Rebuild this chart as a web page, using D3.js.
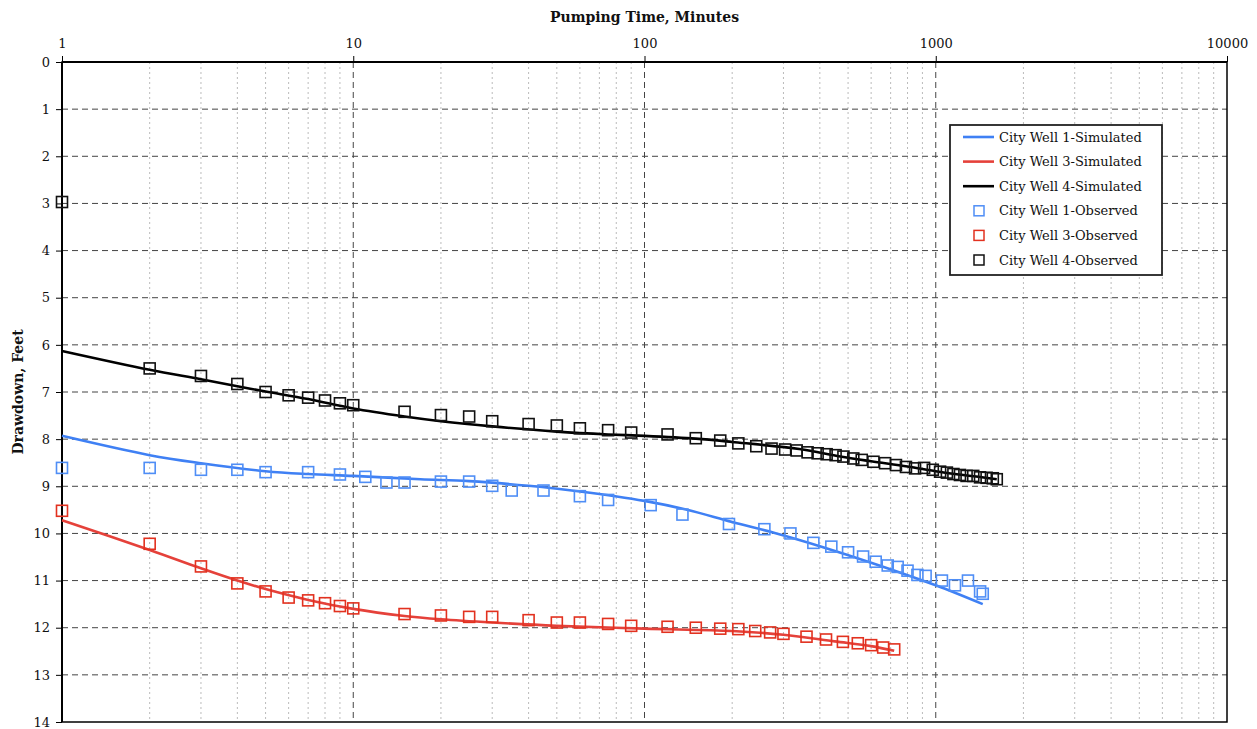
<!DOCTYPE html>
<meta charset="utf-8">
<style>
body { margin: 0; background: #fff; }
text { font-family: "DejaVu Serif", serif; fill: #111; }
</style>
<svg></svg>
<script src="https://d3js.org/d3.v7.min.js"></script>
<script>

// observed drawdown, minutes / feet
var well1Obs = [[1,8.61],[2,8.61],[3,8.65],[4,8.65],[5,8.70],[7,8.70],[9,8.75],[11,8.80],[13,8.92],[15,8.92],[20,8.90],[25,8.90],[30,8.99],[35,9.09],[45,9.09],[60,9.21],[75,9.29],[105,9.40],[135,9.60],[195,9.80],[258,9.91],[317,10.00],[380,10.20],[438,10.28],[500,10.40],[563,10.49],[622,10.60],[684,10.68],[740,10.71],[800,10.79],[865,10.88],[923,10.90],[1050,11.00],[1164,11.10],[1290,11.00],[1420,11.23],[1450,11.28]];
var well3Obs = [[1,9.52],[2,10.22],[3,10.70],[4,11.06],[5,11.23],[6,11.36],[7,11.42],[8,11.48],[9,11.54],[10,11.59],[15,11.71],[20,11.74],[25,11.77],[30,11.77],[40,11.84],[50,11.89],[60,11.89],[75,11.92],[90,11.96],[120,11.98],[150,12.00],[182,12.02],[210,12.03],[240,12.07],[270,12.10],[300,12.13],[360,12.19],[420,12.25],[480,12.30],[540,12.33],[600,12.37],[660,12.42],[720,12.46]];
var well4Obs = [[1,2.97],[2,6.50],[3,6.66],[4,6.83],[5,7.00],[6,7.07],[7,7.12],[8,7.18],[9,7.24],[10,7.28],[15,7.42],[20,7.49],[25,7.52],[30,7.62],[40,7.68],[50,7.71],[60,7.77],[75,7.81],[90,7.86],[120,7.90],[150,7.98],[182,8.03],[210,8.09],[242,8.15],[273,8.20],[304,8.22],[333,8.24],[363,8.28],[393,8.30],[422,8.32],[453,8.34],[482,8.37],[521,8.41],[557,8.44],[611,8.48],[670,8.51],[730,8.55],[790,8.59],[849,8.62],[912,8.61],[977,8.65],[1035,8.69],[1092,8.71],[1150,8.74],[1211,8.76],[1276,8.78],[1345,8.78],[1419,8.81],[1495,8.82],[1570,8.83],[1620,8.85]];

// simulated drawdown
var well1Sim = [[1,7.93],[2,8.34],[3,8.51],[5,8.68],[7,8.74],[10,8.78],[17,8.85],[25,8.89],[40,8.99],[60,9.11],[100,9.31],[140,9.50],[200,9.76],[280,9.99],[400,10.27],[600,10.62],[1000,11.10],[1450,11.50]];
var well3Sim = [[1,9.72],[2,10.35],[3,10.74],[4,11.00],[5,11.18],[7,11.41],[10,11.60],[15,11.75],[20,11.82],[30,11.89],[50,11.96],[100,12.02],[200,12.07],[300,12.15],[450,12.29],[600,12.39],[720,12.49]];
var well4Sim = [[1,6.13],[2,6.53],[3,6.73],[4,6.88],[5,6.99],[7,7.15],[10,7.35],[15,7.52],[20,7.62],[30,7.73],[50,7.84],[75,7.90],[100,7.93],[150,7.99],[200,8.06],[340,8.21],[470,8.37],[600,8.47],[800,8.58],[1000,8.68],[1200,8.75],[1440,8.81],[1620,8.85]];

var xTicks = [1, 10, 100, 1000, 10000];
var yTicks = d3.range(0, 15);

var legendItems = [
  {name: "City Well 1-Simulated", color: "#3f80f4", type: "line"},
  {name: "City Well 3-Simulated", color: "#e5413a", type: "line"},
  {name: "City Well 4-Simulated", color: "#000000", type: "line"},
  {name: "City Well 1-Observed", color: "#4f8ef6", type: "square"},
  {name: "City Well 3-Observed", color: "#e2311f", type: "square"},
  {name: "City Well 4-Observed", color: "#111111", type: "square"}
];

var svg = d3.select("svg").attr("width", 1257).attr("height", 729);

var margin = {left: 62, top: 62, right: 30, bottom: 7},
    width = 1257 - margin.left - margin.right,
    height = 729 - margin.top - margin.bottom;

var g = svg.append("g").attr("transform", "translate(" + margin.left + "," + margin.top + ")");

var x = d3.scaleLog().domain([1, 10000]).range([0, width]);
var y = d3.scaleLinear().domain([0, 14]).range([0, height]);

// minor vertical grid (2..9 of each decade)
var minor = [];
for (var dec = 1; dec < 10000; dec *= 10)
  for (var k = 2; k < 10; k++) minor.push(dec * k);

g.append("g").selectAll("line").data(minor).enter().append("line")
  .attr("x1", function(d) { return x(d); }).attr("x2", function(d) { return x(d); })
  .attr("y1", 0).attr("y2", height)
  .attr("stroke", "#bbb").attr("stroke-width", 1).attr("stroke-dasharray", "2,3");

// major grid
g.append("g").selectAll("line").data(xTicks.slice(1, -1)).enter().append("line")
  .attr("x1", function(d) { return x(d); }).attr("x2", function(d) { return x(d); })
  .attr("y1", 0).attr("y2", height)
  .attr("stroke", "#444").attr("stroke-width", 1).attr("stroke-dasharray", "6,4");

g.append("g").selectAll("line").data(yTicks.slice(1, -1)).enter().append("line")
  .attr("x1", 0).attr("x2", width)
  .attr("y1", function(d) { return y(d); }).attr("y2", function(d) { return y(d); })
  .attr("stroke", "#444").attr("stroke-width", 1).attr("stroke-dasharray", "6,4");

// axes
var xAxis = d3.axisTop(x).tickValues(xTicks).tickFormat(d3.format("d")).tickSizeOuter(0).tickSize(6).tickPadding(8);
var yAxis = d3.axisLeft(y).tickValues(yTicks).tickSizeOuter(0).tickSize(6).tickPadding(6);

var gx = g.append("g").call(xAxis);
var gy = g.append("g").call(yAxis);
[gx, gy].forEach(function(a) {
  a.select(".domain").remove();
  a.selectAll("text").style("font-family", "DejaVu Serif, serif").style("font-size", "13px").attr("fill", "#111");
  a.selectAll(".tick line").attr("stroke", "#000");
});

// frame
g.append("rect").attr("width", width).attr("height", height)
  .attr("fill", "none").attr("stroke", "#000").attr("stroke-width", 1.5);
g.append("line").attr("x1", 0).attr("x2", width).attr("y1", 0).attr("y2", 0).attr("stroke", "#000").attr("stroke-width", 2);
g.append("line").attr("x1", 0).attr("x2", 0).attr("y1", 0).attr("y2", height).attr("stroke", "#000").attr("stroke-width", 2);

// simulated lines
var line = d3.line()
  .x(function(d) { return x(d[0]); })
  .y(function(d) { return y(d[1]); })
  .curve(d3.curveCatmullRom);

var sims = [well1Sim, well3Sim, well4Sim];
sims.forEach(function(s, i) {
  g.append("path").datum(s).attr("d", line)
    .attr("fill", "none").attr("stroke", legendItems[i].color).attr("stroke-width", 2.6);
});

// observed squares
var obs = [well1Obs, well3Obs, well4Obs];
var sq = 11;
obs.forEach(function(o, i) {
  g.append("g").selectAll("rect").data(o).enter().append("rect")
    .attr("x", function(d) { return x(d[0]) - sq / 2; })
    .attr("y", function(d) { return y(d[1]) - sq / 2; })
    .attr("width", sq).attr("height", sq)
    .attr("fill", "none").attr("stroke", legendItems[i + 3].color).attr("stroke-width", 1.6);
});

// titles
svg.append("text").attr("x", margin.left + width / 2).attr("y", 22)
  .attr("text-anchor", "middle").style("font-size", "14px").style("font-weight", "bold")
  .text("Pumping Time, Minutes");
svg.append("text").attr("transform", "translate(23," + (margin.top + height / 2) + ") rotate(-90)")
  .attr("text-anchor", "middle").style("font-size", "14px").style("font-weight", "bold")
  .text("Drawdown, Feet");

// legend
var lg = svg.append("g").attr("transform", "translate(950,125)");
lg.append("rect").attr("width", 212).attr("height", 150)
  .attr("fill", "#fff").attr("stroke", "#222").attr("stroke-width", 1.8);
var li = lg.selectAll(".item").data(legendItems).enter().append("g")
  .attr("transform", function(d, i) { return "translate(0," + (12 + i * 24.6) + ")"; });
li.filter(function(d) { return d.type == "line"; }).append("line")
  .attr("x1", 13).attr("x2", 44).attr("y1", 0).attr("y2", 0)
  .attr("stroke", function(d) { return d.color; }).attr("stroke-width", 2.6);
li.filter(function(d) { return d.type == "square"; }).append("rect")
  .attr("x", 24).attr("y", -5).attr("width", 10).attr("height", 10)
  .attr("fill", "none").attr("stroke", function(d) { return d.color; }).attr("stroke-width", 1.5);
li.append("text").attr("x", 49).attr("y", 4.5).style("font-size", "13px")
  .text(function(d) { return d.name; });

</script>
